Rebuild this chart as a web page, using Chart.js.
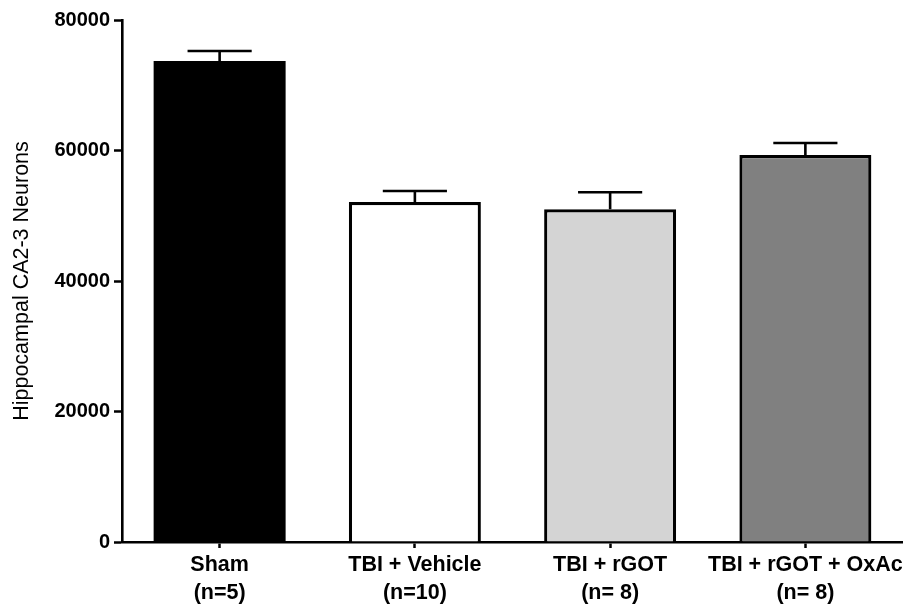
<!DOCTYPE html>
<html>
<head>
<meta charset="utf-8">
<script src="https://cdn.jsdelivr.net/npm/chart.js@4/dist/chart.umd.min.js"></script>
<style>
  html, body { margin: 0; padding: 0; background: #ffffff; }
  #wrap { width: 903px; height: 604px; }
</style>
</head>
<body>
<div id="wrap"><canvas id="c" width="903" height="604"></canvas></div>
<script>
// ---- data ----
const categories = [["Sham", "(n=5)"], ["TBI + Vehicle", "(n=10)"], ["TBI + rGOT", "(n= 8)"], ["TBI + rGOT + OxAc", "(n= 8)"]];
const means = [73700, 52100, 51000, 59300];
const sems = [1550, 1700, 2600, 1850];
const yTicks = [0, 20000, 40000, 60000, 80000];
const yTitle = "Hippocampal CA2-3 Neurons";

// ---- styles ----
const fills = ["#000000", "#ffffff", "#d4d4d4", "#808080"];
const borders = [0, 3.2, 3.2, 3.2];
const FONT = "'Liberation Sans', Arial, Helvetica, sans-serif";

const errorBars = {
  id: "errorBars",
  afterDatasetsDraw(chart) {
    const ctx = chart.ctx;
    const meta = chart.getDatasetMeta(0);
    const y = chart.scales.y;
    ctx.save();
    ctx.strokeStyle = "#000";
    ctx.lineWidth = 2.6;
    meta.data.forEach((bar, i) => {
      const top = y.getPixelForValue(means[i]);
      const cap = y.getPixelForValue(means[i] + sems[i]);
      const half = bar.width * 0.243;
      ctx.beginPath();
      ctx.moveTo(bar.x, top);
      ctx.lineTo(bar.x, cap);
      ctx.moveTo(bar.x - half, cap);
      ctx.lineTo(bar.x + half, cap);
      ctx.stroke();
    });
    ctx.restore();
  }
};

new Chart(document.getElementById("c"), {
  type: "bar",
  data: {
    labels: categories,
    datasets: [{
      data: means,
      backgroundColor: fills,
      borderColor: "#000",
      borderWidth: borders,
      borderSkipped: "bottom",
      categoryPercentage: 1.0,
      barPercentage: 0.676
    }]
  },
  options: {
    responsive: false,
    animation: false,
    devicePixelRatio: 1,
    layout: { padding: { top: 20, right: 0, bottom: 0, left: 0 } },
    plugins: { legend: { display: false }, tooltip: { enabled: false } },
    scales: {
      x: {
        offset: true,
        grid: { display: true, drawOnChartArea: false, offset: false, tickLength: 6, tickWidth: 2.5, tickColor: "#000" },
        border: { display: true, color: "#000", width: 2.6 },
        ticks: { color: "#000", autoSkip: false, maxRotation: 0, padding: 3, font: { family: FONT, size: 21.5, weight: "bold", lineHeight: 1.3 } },
        afterFit(s) { s.height = 62; s.paddingLeft = 0; s.paddingRight = 0; }
      },
      y: {
        min: 0, max: 80000,
        afterBuildTicks(s) { s.ticks = yTicks.map(v => ({ value: v })); },
        grid: { display: true, drawOnChartArea: false, tickLength: 8, tickWidth: 2.5, tickColor: "#000" },
        border: { display: true, color: "#000", width: 2.6 },
        ticks: { color: "#000", padding: 4, font: { family: FONT, size: 20, weight: "bold" }, callback: v => String(v) },
        title: { display: true, text: yTitle, color: "#000", padding: { top: 9, bottom: 0 }, font: { family: FONT, size: 21.5, weight: "normal" } },
        afterFit(s) { s.width = 122; }
      }
    }
  },
  plugins: [errorBars]
});
</script>
</body>
</html>
